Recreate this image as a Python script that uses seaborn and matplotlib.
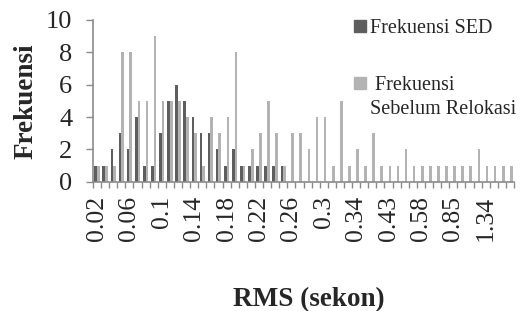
# Histogram frekuensi RMS: SED vs sebelum relokasi

import pandas as pd
import numpy as np
import matplotlib
matplotlib.use('Agg')
import matplotlib.pyplot as plt
import seaborn as sns
from matplotlib.patches import Patch

# ===== DATA =====
# kategori RMS (detik); hanya tiap label ke-4 yang ditampilkan
rms = ['0.02', '0.03', '0.04', '0.05', '0.06', '0.07', '0.08', '0.09', '0.1', '0.11',
       '0.12', '0.13', '0.14', '0.15', '0.16', '0.17', '0.18', '0.19', '0.2', '0.21',
       '0.22', '0.23', '0.24', '0.25', '0.26', '0.27', '0.28', '0.29', '0.3', '0.31',
       '0.32', '0.33', '0.34', '0.35', '0.37', '0.4', '0.43', '0.47', '0.5', '0.54',
       '0.58', '0.63', '0.7', '0.77', '0.85', '0.94', '1.05', '1.2', '1.34', '1.5',
       '1.76', '2.1']

frek_sed = [1, 1, 2, 3, 2, 4, 1, 1, 3, 5, 6, 5, 4, 3, 3, 2, 1, 2, 1, 1,
            1, 1, 1, 1, 0, 0, 0, 0, 0, 0, 0, 0, 0, 0, 0, 0, 0, 0, 0, 0,
            0, 0, 0, 0, 0, 0, 0, 0, 0, 0, 0, 0]

frek_sebelum = [1, 1, 1, 8, 8, 5, 5, 9, 5, 5, 5, 4, 3, 1, 4, 3, 4, 8, 1, 2,
                3, 5, 3, 1, 3, 3, 2, 4, 4, 1, 5, 1, 2, 1, 3, 1, 1, 1, 2, 1,
                1, 1, 1, 1, 1, 1, 1, 2, 1, 1, 1, 1]

seri = ['Frekuensi SED', 'Frekuensi Sebelum Relokasi']
warna = ['#5e5e5e', '#b3b3b3']
abu = '#8a8a8a'

df = pd.DataFrame({
    'RMS': rms * 2,
    'Frekuensi': frek_sed + frek_sebelum,
    'Seri': [seri[0]] * len(rms) + [seri[1]] * len(rms),
})

# ===== GAYA =====
sns.set_style('ticks')
plt.rcParams['font.family'] = ['Liberation Serif', 'DejaVu Serif']

fig = plt.figure(figsize=(5.25, 3.11), dpi=100)
ax = fig.add_axes([93 / 525, 1 - 181.7 / 311, 421 / 525, 161.7 / 311])

sns.barplot(data=df, x='RMS', y='Frekuensi', hue='Seri', order=rms,
            hue_order=seri, palette=warna, width=0.66, linewidth=0,
            errorbar=None, legend=False, ax=ax)

ax.set_xlim(-0.5, len(rms) - 0.5)
ax.set_ylim(0, 10)
ax.set_yticks(range(0, 11, 2))

# label sumbu x tiap 4 kategori, tick di batas kategori
posisi = list(range(0, len(rms), 4))
ax.set_xticks(posisi)
ax.set_xticklabels([rms[i] for i in posisi], rotation=90, fontsize=18.5)
ax.set_xticks(np.arange(-0.5, len(rms), 1), minor=True)
ax.tick_params(axis='x', which='major', length=0, pad=10)
ax.tick_params(axis='x', which='minor', length=4.5, width=1, color=abu,
               direction='out', bottom=True)
ax.tick_params(axis='y', which='major', length=5, width=1, color=abu,
               direction='out', labelsize=19, pad=10)

for s in ['top', 'right']:
    ax.spines[s].set_visible(False)
for s in ['left', 'bottom']:
    ax.spines[s].set_color(abu)
    ax.spines[s].set_linewidth(1.2)

ax.set_ylabel('Frekuensi', fontsize=19.5, fontweight='bold')
ax.yaxis.set_label_coords(-0.13, 0.5)
ax.set_xlabel('RMS (sekon)', fontsize=19.5, fontweight='bold')
ax.xaxis.set_label_coords(0.513, -0.65)

# ===== LEGENDA =====
opsi = dict(frameon=False, fontsize=14.5, handlelength=0.6, handleheight=0.6,
            handletextpad=0.2, borderpad=0, borderaxespad=0, loc='upper left',
            bbox_transform=fig.transFigure)
leg1 = ax.legend(handles=[Patch(color=warna[0])], labels=['Frekuensi SED'],
                 bbox_to_anchor=(354 / 525, 1 - 19 / 311), **opsi)
ax.add_artist(leg1)
ax.legend(handles=[Patch(color=warna[1]), Patch(color='none')],
          labels=[' Frekuensi', 'Sebelum Relokasi'], labelspacing=0.25,
          bbox_to_anchor=(354 / 525, 1 - 76 / 311), **opsi)

fig.savefig('out.png', dpi=100)
